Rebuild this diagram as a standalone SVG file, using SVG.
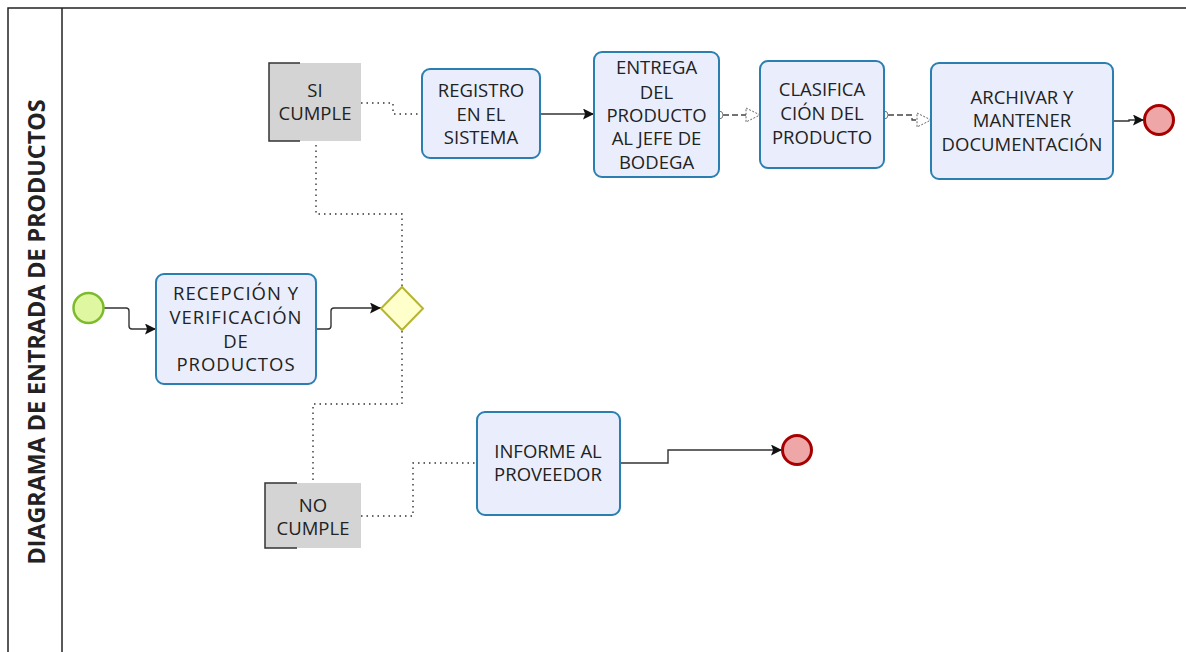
<svg xmlns="http://www.w3.org/2000/svg" width="1186" height="652" viewBox="0 0 1186 652">
<defs>
<style>
.lane{fill:none;stroke:#222;stroke-width:1.5}
.task{fill:#eaeefc;stroke:#2a7fb0;stroke-width:2}
.ann{fill:#d4d4d4}
.brk{fill:none;stroke:#333;stroke-width:1.5}
.txt{font-family:"Open Sans","Liberation Sans",sans-serif;font-size:18.5px;fill:#222;text-anchor:middle}
.big{letter-spacing:1px}
.title{font-family:"Open Sans","Liberation Sans",sans-serif;font-size:24px;font-weight:700;fill:#222;text-anchor:middle}
.seq{fill:none;stroke:#333;stroke-width:1.4}
.assoc{fill:none;stroke:#333;stroke-width:1.4;stroke-dasharray:1.5 4}
.msg{fill:none;stroke:#444;stroke-width:1.3;stroke-dasharray:6 3}
.msgtri{fill:#fff;stroke:#666;stroke-width:1;stroke-dasharray:2 1.5}
.msgcirc{fill:#fff;stroke:#777;stroke-width:1}
.start{fill:#dff7a0;stroke:#7dbb2d;stroke-width:2.5}
.end{fill:#eea6a6;stroke:#a80000;stroke-width:3}
.gw{fill:#ffffcc;stroke:#b5b52e;stroke-width:2}
</style>
<marker id="arr" viewBox="0 0 10 10" refX="10" refY="5" markerWidth="11" markerHeight="11" markerUnits="userSpaceOnUse" orient="auto">
<path d="M0,0 L10,5 L0,10 L2,5 Z" fill="#111"/>
</marker>
</defs>
<rect width="1186" height="652" fill="#fff"/>
<g id="lane">
<path class="lane" d="M8,652 V8 H1186"/>
<path class="lane" d="M62,8 V652"/>
<text class="title" x="45" y="332" transform="rotate(-90 45 332)" textLength="465" lengthAdjust="spacingAndGlyphs">DIAGRAMA DE ENTRADA DE PRODUCTOS</text>
</g>
<g id="connectors">
<path class="seq" marker-end="url(#arr)" d="M104,308 H126 Q129,308 129,311 V326 Q129,329 132,329 H156"/>
<path class="seq" marker-end="url(#arr)" d="M316,329 H328 Q331,329 331,326 V311 Q331,308 334,308 H381"/>
<path class="seq" marker-end="url(#arr)" d="M540,114 H594"/>
<path class="seq" marker-end="url(#arr)" d="M1113,121 H1129 V120 H1144"/>
<path class="seq" marker-end="url(#arr)" d="M620,463 H668 V450 H782"/>
<path class="assoc" d="M402,286 V214 H316 V141"/>
<path class="assoc" d="M361,103 H393 V114 H422"/>
<path class="assoc" d="M402,331 V404 H313 V483"/>
<path class="assoc" d="M361,516 H413 V463 H477"/>
<path class="msg" d="M723,115 H746"/>
<polygon class="msgtri" points="746,108 760,115 746,122"/>
<circle class="msgcirc" cx="719" cy="115" r="4"/>
<path class="msg" d="M888,115 H912 V120 H917"/>
<polygon class="msgtri" points="917,113 931,120 917,127"/>
<circle class="msgcirc" cx="884" cy="115" r="4"/>
</g>
<g id="start">
<circle class="start" cx="88.5" cy="308" r="15"/>
</g>
<g id="recepcion">
<rect class="task" x="156" y="274" width="160" height="110" rx="8"/>
<text class="txt big"><tspan x="236" y="299.5">RECEPCIÓN Y</tspan><tspan x="236" y="323.5">VERIFICACIÓN</tspan><tspan x="236" y="347.5">DE</tspan><tspan x="236" y="371">PRODUCTOS</tspan></text>
</g>
<g id="gateway">
<polygon class="gw" points="402,287 423,308.5 402,330 381,308.5"/>
</g>
<g id="si-cumple">
<rect class="ann" x="269" y="63" width="92" height="78"/>
<path class="brk" d="M300,63 H269 V141 H300"/>
<text class="txt"><tspan x="315" y="96.5">SI</tspan><tspan x="315" y="120">CUMPLE</tspan></text>
</g>
<g id="registro">
<rect class="task" x="422" y="69" width="118" height="89" rx="8"/>
<text class="txt"><tspan x="481" y="96.5">REGISTRO</tspan><tspan x="481" y="120.5">EN EL</tspan><tspan x="481" y="143.5">SISTEMA</tspan></text>
</g>
<g id="entrega">
<rect class="task" x="594" y="52" width="125" height="125" rx="8"/>
<text class="txt"><tspan x="656.5" y="73.5">ENTREGA</tspan><tspan x="656.5" y="98.5">DEL</tspan><tspan x="656.5" y="121.5">PRODUCTO</tspan><tspan x="656.5" y="145">AL JEFE DE</tspan><tspan x="656.5" y="168.5">BODEGA</tspan></text>
</g>
<g id="clasificacion">
<rect class="task" x="760" y="61" width="124" height="107" rx="8"/>
<text class="txt"><tspan x="822" y="95.5">CLASIFICA</tspan><tspan x="822" y="119.5">CIÓN DEL</tspan><tspan x="822" y="143.5">PRODUCTO</tspan></text>
</g>
<g id="archivar">
<rect class="task" x="931" y="63" width="182" height="116" rx="8"/>
<text class="txt"><tspan x="1022" y="103.5">ARCHIVAR Y</tspan><tspan x="1022" y="127">MANTENER</tspan><tspan x="1022" y="150.5">DOCUMENTACIÓN</tspan></text>
</g>
<g id="end-1">
<circle class="end" cx="1159" cy="120" r="14.5"/>
</g>
<g id="no-cumple">
<rect class="ann" x="265" y="483" width="96" height="65"/>
<path class="brk" d="M297,483 H265 V548 H297"/>
<text class="txt"><tspan x="313" y="511.5">NO</tspan><tspan x="313" y="534.5">CUMPLE</tspan></text>
</g>
<g id="informe">
<rect class="task" x="477" y="412" width="143" height="103" rx="8"/>
<text class="txt"><tspan x="548" y="457.5">INFORME AL</tspan><tspan x="548" y="480.5">PROVEEDOR</tspan></text>
</g>
<g id="end-2">
<circle class="end" cx="797" cy="450" r="14.5"/>
</g>
</svg>
